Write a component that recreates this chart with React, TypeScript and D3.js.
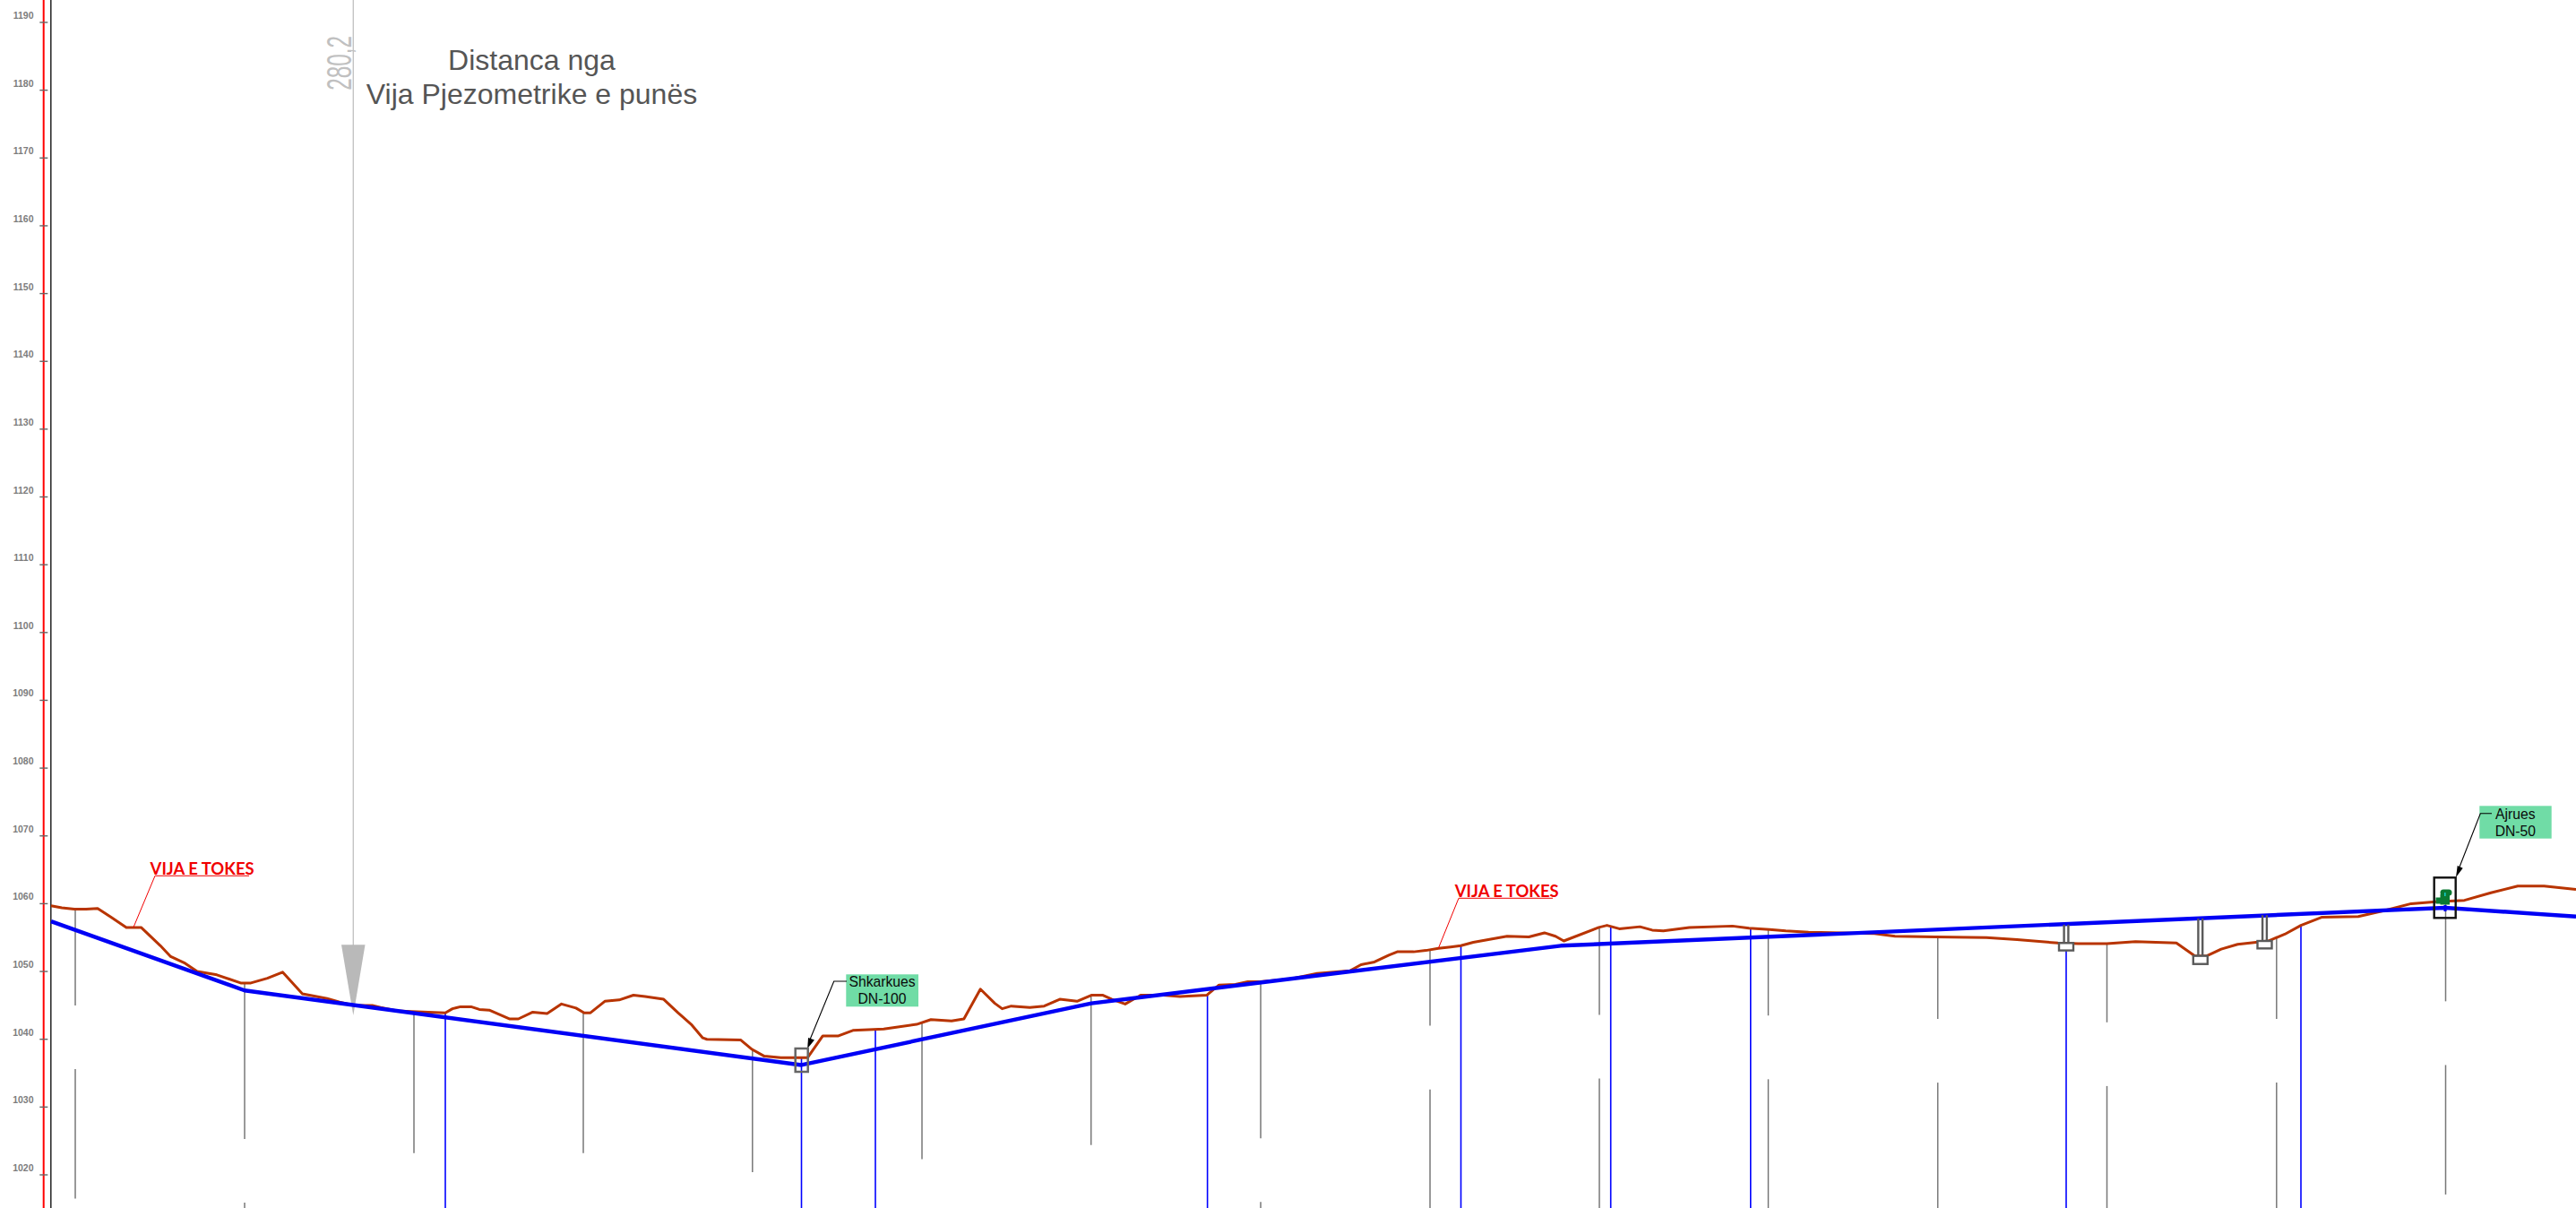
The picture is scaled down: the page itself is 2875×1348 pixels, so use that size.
import React from "react";
import * as d3 from "d3";

const WIDTH = 2875;
const HEIGHT = 1348;

const yTicks = [1190, 1180, 1170, 1160, 1150, 1140, 1130, 1120, 1110, 1100, 1090, 1080, 1070, 1060, 1050, 1040, 1030, 1020];

const terrainStations = [0, 12, 26, 39, 52, 67, 84, 100.5, 122, 133.5, 149.6, 163, 185, 211.6, 223, 241.4, 258.4, 280.5, 308, 322, 338, 358.5, 367.7, 386, 402, 440, 448, 457, 468.7, 478, 489, 512, 521.5, 537.6, 553.6, 569.7, 585.8, 595, 602, 618, 634, 650, 663, 683.7, 699.7, 714.4, 727.3, 732, 769.5, 782.4, 796, 814.5, 844.4, 861.3, 878.8, 894.9, 929.3, 966, 982, 1005, 1018.8, 1037.2, 1053.3, 1061.5, 1071.6, 1092.3, 1108.4, 1125.8, 1145, 1161, 1174, 1184, 1198.8, 1216, 1241.5, 1259.9, 1289.7, 1303.5, 1321.9, 1335.6, 1349.4, 1383, 1413, 1449.6, 1462, 1477, 1493, 1502.4, 1520.7, 1534.5, 1548.3, 1562, 1573.5, 1587.3, 1625, 1649.3, 1666.7, 1679, 1688.3, 1727.4, 1736.5, 1750.3, 1773.3, 1787, 1799.4, 1828.4, 1876.6, 1895, 1918, 1936, 1961.5, 1998, 2035, 2058, 2103, 2160, 2194.2, 2239.8, 2262.6, 2294.5, 2326.4, 2372, 2392.6, 2406, 2422, 2440.4, 2474.6, 2493, 2511, 2534, 2575, 2604.6, 2634, 2661.6, 2693.5, 2723, 2753, 2782.4, 2818];
const terrainElevations = [1059.7, 1059.4, 1059.2, 1059.2, 1059.3, 1058.0, 1056.5, 1056.5, 1053.8, 1052.2, 1051.2, 1050.0, 1049.5, 1048.3, 1048.3, 1049.0, 1049.9, 1046.7, 1046.0, 1045.5, 1045.0, 1045.0, 1044.7, 1044.2, 1044.1, 1043.9, 1044.5, 1044.8, 1044.8, 1044.4, 1044.3, 1043.0, 1043.0, 1044.0, 1043.8, 1045.2, 1044.6, 1043.9, 1043.9, 1045.6, 1045.8, 1046.5, 1046.3, 1045.9, 1043.9, 1042.2, 1040.2, 1040.0, 1039.9, 1038.5, 1037.5, 1037.3, 1037.3, 1040.5, 1040.5, 1041.3, 1041.5, 1042.2, 1042.9, 1042.7, 1043.0, 1047.4, 1045.3, 1044.5, 1044.9, 1044.7, 1044.9, 1045.9, 1045.6, 1046.5, 1046.5, 1045.9, 1045.2, 1046.5, 1046.5, 1046.3, 1046.5, 1048.0, 1048.1, 1048.5, 1048.5, 1048.9, 1049.7, 1050.1, 1051.0, 1051.4, 1052.4, 1052.9, 1052.9, 1053.1, 1053.4, 1053.6, 1053.8, 1054.3, 1055.2, 1055.1, 1055.7, 1055.2, 1054.5, 1056.5, 1056.8, 1056.3, 1056.6, 1056.1, 1056.0, 1056.5, 1056.7, 1056.4, 1056.2, 1056.0, 1055.8, 1055.7, 1055.6, 1055.2, 1055.1, 1055.0, 1054.7, 1054.2, 1054.1, 1054.1, 1054.4, 1054.2, 1052.3, 1052.3, 1053.3, 1054.0, 1054.5, 1055.5, 1056.8, 1058.0, 1058.1, 1059.0, 1060.0, 1060.3, 1060.5, 1061.6, 1062.6, 1062.6, 1062.1];

const pipeStations = [0, 216, 837.5, 1161, 1685, 2672, 2818];
const pipeElevations = [1057.4, 1047.2, 1036.2, 1045.3, 1053.8, 1059.4, 1058.1];

const blueDropStations = [440, 837.5, 920, 1290.6, 1573.5, 1740.7, 1896.8, 2249, 2511];

const grayStations = [27, 216, 405, 594, 782.8, 972, 1160.7, 1350, 1539, 1728, 1916.5, 2105.7, 2294.5, 2483.8, 2672.5];
const grayUpperEnd = [1045.0, 1025.3, 1023.2, 1023.2, 1020.4, 1022.3, 1024.4, 1025.4, 1042.0, 1043.6, 1043.5, 1043.0, 1042.5, 1043.0, 1045.6];
const grayLowerStart = [1035.6, 1015.9, null, null, null, null, null, 1016.0, 1032.6, 1034.2, 1034.1, 1033.6, 1033.1, 1033.6, 1036.2];
const grayLowerEnd = [1016.5, 1010, null, null, null, null, null, 1010, 1010, 1010, 1010, 1010, 1010, 1010, 1017.1];

const chamberStations = [2249, 2398.8, 2470.5];
const chamberRoofs = [1054.2, 1052.3, 1054.5];
const chamberFloors = [1053.1, 1051.1, 1053.4];
const chamberStemTops = [1056.9, 1057.8, 1058.3];

const groundLabels = ["VIJA E TOKES", "VIJA E TOKES"];
const titleLines = ["Distanca nga", "Vija Pjezometrike e punës"];
const arrowLabel = "280,2";

const x = d3.scaleLinear().domain([0, 2818]).range([57, 2875]);
const y = d3.scaleLinear().domain([1190, 1020]).range([25, 1311]);

const terrainPoints: [number, number][] = terrainStations.map((s, i) => [s, terrainElevations[i]]);
const pipePoints: [number, number][] = pipeStations.map((s, i) => [s, pipeElevations[i]]);

const linePath = d3.line<[number, number]>().x((d) => x(d[0])).y((d) => y(d[1]));
const bis = d3.bisector((d: [number, number]) => d[0]).left;
const groundAt = (s: number) => {
  const i = Math.max(1, bis(terrainPoints, s));
  const a = terrainPoints[i - 1];
  const b = terrainPoints[i];
  return a[1] + ((b[1] - a[1]) * (s - a[0])) / (b[0] - a[0]);
};

const FONT = "'Liberation Sans', Arial, sans-serif";

export default function App() {
  return (
    <svg
      width={WIDTH}
      height={HEIGHT}
      viewBox={`0 0 ${WIDTH} ${HEIGHT}`}
      style={{ position: "absolute", left: 0, top: 0, display: "block", background: "#fff" }}
      fontFamily={FONT}
    >
      {/* y axis */}
      <line x1={48.7} x2={48.7} y1={0} y2={HEIGHT} stroke="#ff0000" strokeWidth={2} />
      <line x1={56.8} x2={56.8} y1={0} y2={HEIGHT} stroke="#222" strokeWidth={1.5} />
      {yTicks.map((t) => (
        <g key={t}>
          <line x1={44.3} x2={53.3} y1={y(t)} y2={y(t)} stroke="#666" strokeWidth={1.4} />
          <text x={37.5} y={y(t) - 4} textAnchor="end" fontSize={10.5} fontWeight={700} fill="#7d7d7d">
            {t}
          </text>
        </g>
      ))}

      {/* title */}
      <text x={593.5} y={77.6} textAnchor="middle" fontSize={32} fill="#555">{titleLines[0]}</text>
      <text x={593.5} y={116.2} textAnchor="middle" fontSize={32} fill="#555">{titleLines[1]}</text>

      {/* gray verticals */}
      {grayStations.map((s, i) => (
        <g key={s} stroke="#777" strokeWidth={1.5}>
          <line x1={x(s)} x2={x(s)} y1={y(groundAt(s))} y2={y(grayUpperEnd[i])} />
          {grayLowerStart[i] !== null && (
            <line x1={x(s)} x2={x(s)} y1={y(grayLowerStart[i] as number)} y2={y(grayLowerEnd[i] as number)} />
          )}
        </g>
      ))}

      {/* blue verticals */}
      {blueDropStations.map((s) => (
        <line key={s} x1={x(s)} x2={x(s)} y1={y(groundAt(s))} y2={HEIGHT} stroke="#0000ff" strokeWidth={1.6} />
      ))}

      {/* 280,2 arrow */}
      <line x1={394.3} x2={394.3} y1={0} y2={1060} stroke="#c4c4c4" strokeWidth={1.4} />
      <polygon points="381,1054.3 407.5,1054.3 394.3,1133" fill="#b9b9b9" />
      <text
        transform="translate(392.3,100.8) rotate(-90) scale(0.64,1)"
        fontSize={38}
        fill="#c0c0c0"
      >
        {arrowLabel}
      </text>

      {/* terrain and pipe */}
      <path d={linePath(terrainPoints) as string} fill="none" stroke="#b83400" strokeWidth={3} strokeLinejoin="round" />
      <path d={linePath(pipePoints) as string} fill="none" stroke="#0000f5" strokeWidth={4.4} strokeLinejoin="round" />

      {/* ground labels */}
      <g fill="none" stroke="#f00000" strokeWidth={1}>
        <path d="M149,1034.7 L173,977.3 L278,977.3" />
        <path d="M1605.3,1058.3 L1628,1002.3 L1733,1002.3" />
      </g>
      <text x={167.6} y={976} fontSize={18} fontWeight={700} fontFamily="Lato, sans-serif" fill="#f00000" textLength={116} lengthAdjust="spacingAndGlyphs">
        {groundLabels[0]}
      </text>
      <text x={1623.7} y={1000.7} fontSize={18} fontWeight={700} fontFamily="Lato, sans-serif" fill="#f00000" textLength={116} lengthAdjust="spacingAndGlyphs">
        {groundLabels[1]}
      </text>

      {/* chambers */}
      {chamberStations.map((s, i) => {
        const cx = x(s);
        const roof = y(chamberRoofs[i]);
        const floor = y(chamberFloors[i]);
        return (
          <g key={s} stroke="#5a5a5a" strokeWidth={2.4} fill="#fff">
            <line x1={cx - 2.4} x2={cx - 2.4} y1={y(chamberStemTops[i])} y2={roof} />
            <line x1={cx + 2.4} x2={cx + 2.4} y1={y(chamberStemTops[i])} y2={roof} />
            <rect x={cx - 8} y={roof} width={16} height={floor - roof} />
          </g>
        );
      })}

      {/* Shkarkues */}
      <rect x={944.3} y={1087.3} width={80.7} height={36} fill="#70dca6" />
      <text x={984.5} y={1100.8} textAnchor="middle" fontSize={15.7} fill="#0a0a0a">Shkarkues</text>
      <text x={984.5} y={1120} textAnchor="middle" fontSize={15.7} fill="#0a0a0a">DN-100</text>
      <path d="M945,1095 L930.7,1095 L904,1160" fill="none" stroke="#000" strokeWidth={1.1} />
      <polygon points="901.2,1170 902,1158 909,1160.5" fill="#000" />
      <rect x={887.7} y={1170} width={14} height={26} fill="none" stroke="#666" strokeWidth={2.5} />

      {/* Ajrues */}
      <rect x={2767.3} y={899.3} width={80.4} height={36.4} fill="#70dca6" />
      <text x={2807.3} y={914.3} textAnchor="middle" fontSize={15.7} fill="#0a0a0a">Ajrues</text>
      <text x={2807.3} y={933.3} textAnchor="middle" fontSize={15.7} fill="#0a0a0a">DN-50</text>
      <path d="M2781,907.7 L2768.3,907.7 L2744,970" fill="none" stroke="#000" strokeWidth={1.1} />
      <polygon points="2741,979 2742.7,966 2748.7,968.7" fill="#000" />
      <rect x={x(2672) - 12.3} y={979.3} width={24} height={45} fill="none" stroke="#111" strokeWidth={2.4} />
      {/* valve */}
      <rect x={2729 - 1.5} y={1010} width={3} height={7} fill="#0000f0" />
      <rect x={2723.5} y={992.5} width={13} height={7} rx={3.5} fill="#0a7a32" />
      <rect x={2723.5} y={998} width={10.5} height={11.5} fill="#0a7a32" />
      <rect x={2718.5} y={1001.5} width={6} height={7} fill="#0a7a32" />
      <rect x={2728} y={996} width={1.6} height={4} fill="#14c8c8" />
    </svg>
  );
}
